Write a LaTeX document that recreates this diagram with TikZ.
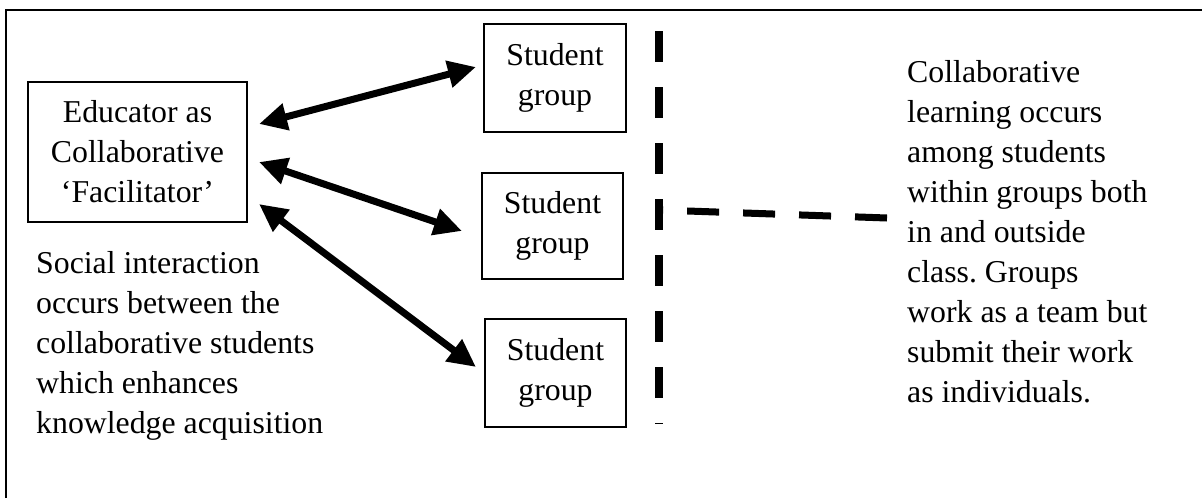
\documentclass[tikz,border=0pt]{standalone}
\usepackage{fontspec}
\setmainfont{Liberation Serif}
\usetikzlibrary{arrows.meta,calc}
\frenchspacing
\begin{document}
\begin{tikzpicture}[x=1pt,y=-1pt,
  txt/.style={font=\fontsize{31.8}{40}\selectfont, inner sep=0pt},
  boxed/.style={draw, line width=2pt, inner sep=0pt, align=center, font=\fontsize{31.8}{40}\selectfont},
  dblarrow/.style={line width=7pt, {Triangle[length=28pt,width=26pt]}-{Triangle[length=28pt,width=26pt]}},
  dashline/.style={line width=8pt, dash pattern=on 31pt off 25pt},
]
\useasboundingbox (0,0) rectangle (1202,498);
\draw[line width=2pt] (6,498) -- (6,10) -- (1202,10);

\node[boxed, minimum width=219pt, minimum height=140pt] (edu) at (137.5,152) {Educator as\\Collaborative\\`Facilitator'};
\node[boxed, minimum width=142pt, minimum height=108pt] (sg1) at (555,78) {Student\\group};
\node[boxed, minimum width=141pt, minimum height=106pt] (sg2) at (552.5,226) {Student\\group};
\node[boxed, minimum width=141pt, minimum height=108pt] (sg3) at (555.5,373) {Student\\group};

\node[txt, align=left, anchor=north west] (social) at (36,251) {Social interaction\\occurs between the\\collaborative students\\which enhances\\knowledge acquisition};
\node[txt, align=left, anchor=north west] (collab) at (907,60) {Collaborative\\learning occurs\\among students\\within groups both\\in and outside\\class. Groups\\work as a team but\\submit their work\\as individuals.};

\coordinate (e1) at ($(edu.north east)+(11,43)$);
\coordinate (e2) at ($(edu.north east)+(11,81)$);
\coordinate (e3) at ($(edu.north east)+(11,123)$);
\coordinate (s1) at ($(sg1.north west)+(-7,44)$);
\coordinate (s2) at ($(sg2.north west)+(-19,59)$);
\coordinate (s3) at ($(sg3.north west)+(-8,49)$);
\draw[dblarrow] (e1) -- (s1);
\draw[dblarrow] (e2) -- (s2);
\draw[dblarrow] (e3) -- (s3);

\coordinate (vtop) at (659,31);
\coordinate (vbot) at (659,424);
\draw[dashline] (vtop) -- (vbot);
\coordinate (hl) at (659,210);
\coordinate (hr) at ($(collab.north west)+(-20,158)$);
\draw[line width=7pt, dash pattern=on 32pt off 24pt] (hr) -- (hl);
\end{tikzpicture}
\end{document}
